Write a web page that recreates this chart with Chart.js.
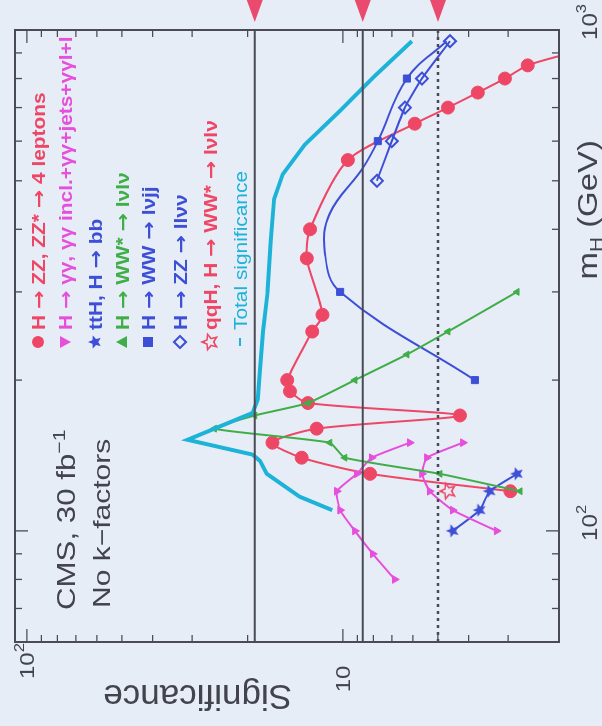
<!DOCTYPE html>
<html>
<head>
<meta charset="utf-8">
<script src="https://cdn.jsdelivr.net/npm/chart.js@4.4.1/dist/chart.umd.min.js"></script>
<style>
  html, body { margin: 0; padding: 0; background: #e7edf6; overflow: hidden; }
  #wrap { position: absolute; left: -62px; top: 62px; width: 726px; height: 602px; transform: rotate(-90deg); }
</style>
</head>
<body>
<div id="wrap"><canvas id="sig" width="726" height="602"></canvas></div>
<script>
// expected significance per channel vs. Higgs mass (GeV)
var zz4lMass = [120, 130, 140, 150, 160, 170, 180, 190, 200, 250, 270, 350, 400, 550, 650, 700, 750, 800, 850, 900];
var zz4lSig  = [2.95, 8.2, 13.5, 16.7, 12.1, 4.26, 12.9, 14.7, 15.0, 12.5, 11.6, 13.0, 12.7, 9.64, 5.92, 4.65, 3.74, 3.07, 2.60, 1.9];

var ggInclMass = [80, 90, 100, 110, 120, 130, 140, 150];
var ggInclSig  = [6.85, 8.04, 9.16, 10.2, 10.45, 9.03, 8.10, 6.14];

var ggCutMass = [100, 110, 120, 130, 140, 150];
var ggCutSig  = [3.26, 4.49, 5.31, 5.62, 5.42, 4.17];

var tthMass = [100, 110, 120, 130];
var tthSig  = [4.49, 3.69, 3.43, 2.81];

var wwllMass = [120, 130, 140, 150, 160, 170, 180, 200, 225, 250, 300];
var wwllSig  = [2.75, 4.93, 9.86, 11.0, 25.5, 19.0, 12.9, 9.16, 6.27, 4.65, 2.81];

var wwjjMass = [200, 300, 360, 430, 530, 600, 800, 950];
var wwjjSig  = [3.82, 10.2, 11.4, 11.0, 8.65, 7.75, 6.27, 4.7];
var wwjjMarked = [1, 1, 0, 0, 0, 1, 1, 0];

var zzllnnMass = [500, 600, 700, 800, 950];
var zzllnnSig  = [7.80, 7.0, 6.36, 5.62, 4.58];

var qqhMass = [120];
var qqhSig  = [4.65];

var totalMass = [110, 117, 130, 138, 142, 152, 172, 183, 210, 250, 300, 380, 460, 515, 590, 690, 810, 950];
var totalSig  = [10.8, 13.7, 17.4, 18.3, 19.3, 31.0, 19.3, 18.6, 18.3, 17.9, 17.3, 16.9, 16.5, 15.5, 13.2, 10.2, 7.92, 6.05];

// reference levels
var solidLevels = [19, 8.65];
var dottedLevel = 5;

// axis ticks
var massTicks = [60, 70, 80, 90, 100, 200, 300, 400, 500, 600, 700, 800, 900, 1000];
var sigTicks = [3, 4, 5, 6, 7, 8, 9, 10, 20, 30, 40, 50, 60, 70, 80, 90, 100];
var massLabels = [[100, "2"], [1000, "3"]];
var sigLabels = [[10, ""], [100, "2"]];

var legendText = [
  "H \u2192 ZZ, ZZ* \u2192 4 leptons",
  "H \u2192 \u03b3\u03b3, \u03b3\u03b3 incl.+\u03b3\u03b3+jets+\u03b3\u03b3l+l",
  "ttH, H \u2192 bb",
  "H \u2192 WW* \u2192 l\u03bdl\u03bd",
  "H \u2192 WW \u2192 l\u03bdjj",
  "H \u2192 ZZ \u2192 ll\u03bd\u03bd",
  "qqH, H \u2192 WW* \u2192 l\u03bdl\u03bd",
  "Total significance"
];

var RED = "#ee4766", MAG = "#e64fdc", GRN = "#3fae48", BLU = "#3d4fd6", CYA = "#1db3d8", INK = "#43434e";
var FONT = "'Liberation Sans', Arial, sans-serif";
var ARROW_FONT = "'DejaVu Sans', sans-serif";

function starCanvas(r, color, filled) {
  var c = document.createElement("canvas");
  var s = Math.ceil(2 * r + 4);
  c.width = s; c.height = s;
  var g = c.getContext("2d");
  g.beginPath();
  for (var i = 0; i < 10; i++) {
    var a = -Math.PI / 2 + i * Math.PI / 5;
    var rr = i % 2 ? r * 0.45 : r;
    g.lineTo(s / 2 + rr * Math.cos(a), s / 2 + rr * Math.sin(a));
  }
  g.closePath();
  if (filled) { g.fillStyle = color; g.fill(); }
  else { g.strokeStyle = color; g.lineWidth = 1.6; g.stroke(); }
  return c;
}
var starFull = starCanvas(7, BLU, true);
var starOpen = starCanvas(8, RED, false);

function pts(mass, sig) {
  return mass.map(function (m, i) { return { x: m, y: sig[i] }; });
}

function series(mass, sig, color, style, radius, more) {
  var d = {
    data: pts(mass, sig),
    borderColor: color,
    backgroundColor: color,
    pointBackgroundColor: color,
    pointBorderColor: color,
    pointStyle: style,
    pointRadius: radius,
    pointBorderWidth: 1,
    borderWidth: 2,
    tension: 0.15,
    showLine: true
  };
  for (var k in more) d[k] = more[k];
  return d;
}

function levelLine(level, dash, width) {
  return {
    data: [{ x: 60, y: level }, { x: 1000, y: level }],
    borderColor: "#4a4a56",
    borderWidth: width,
    borderDash: dash,
    pointRadius: 0,
    showLine: true
  };
}

var datasets = [
  levelLine(solidLevels[0], [], 1.8),
  levelLine(solidLevels[1], [], 1.8),
  levelLine(dottedLevel, [3, 4], 2.6),
  series(totalMass, totalSig, CYA, "circle", 0, { borderWidth: 4, tension: 0 }),
  series(wwllMass, wwllSig, GRN, "triangle", 4),
  series(ggInclMass, ggInclSig, MAG, "triangle", 4.5, { pointRotation: 180 }),
  series(ggCutMass, ggCutSig, MAG, "triangle", 4.5, { pointRotation: 180 }),
  series(tthMass, tthSig, BLU, starFull, 6),
  series(wwjjMass, wwjjSig, BLU, "rect", wwjjMarked.map(function (f) { return f ? 5 : 0; }), { tension: 0.4 }),
  series(zzllnnMass, zzllnnSig, BLU, "rectRot", 6, { pointBackgroundColor: "rgba(0,0,0,0)", pointBorderWidth: 2 }),
  series(zz4lMass, zz4lSig, RED, "circle", 6.5, { tension: 0.25 }),
  series(qqhMass, qqhSig, RED, starOpen, 7)
];

function partFont(p) {
  return (p.w || "") + " " + p.size + "px " + (p.f || FONT);
}

function drawRich(ctx, parts, u, v, opt) {
  ctx.save();
  ctx.translate(u, v);
  if (opt.rot) ctx.rotate(opt.rot);
  ctx.scale(opt.sx || 1, 1);
  var w = 0;
  parts.forEach(function (p) { ctx.font = partFont(p); w += ctx.measureText(p.t).width; });
  var x = opt.align === "right" ? -w : opt.align === "center" ? -w / 2 : 0;
  ctx.fillStyle = opt.color;
  ctx.textAlign = "left";
  ctx.textBaseline = "alphabetic";
  parts.forEach(function (p) {
    ctx.font = partFont(p);
    ctx.fillText(p.t, x, p.dy || 0);
    x += ctx.measureText(p.t).width;
  });
  ctx.restore();
}

function marker(ctx, kind, x, y) {
  ctx.save();
  ctx.lineWidth = 2;
  ctx.beginPath();
  if (kind === "circle") {
    ctx.fillStyle = RED; ctx.arc(x, y, 6, 0, 2 * Math.PI); ctx.fill();
  } else if (kind === "triDown") {
    ctx.fillStyle = MAG; ctx.moveTo(x - 6, y - 5); ctx.lineTo(x + 6, y - 5); ctx.lineTo(x, y + 6); ctx.closePath(); ctx.fill();
  } else if (kind === "triUp") {
    ctx.fillStyle = GRN; ctx.moveTo(x - 6, y + 5); ctx.lineTo(x + 6, y + 5); ctx.lineTo(x, y - 6); ctx.closePath(); ctx.fill();
  } else if (kind === "rect") {
    ctx.fillStyle = BLU; ctx.fillRect(x - 5, y - 5, 10, 10);
  } else if (kind === "diamond") {
    ctx.strokeStyle = BLU; ctx.moveTo(x, y - 6); ctx.lineTo(x + 6, y); ctx.lineTo(x, y + 6); ctx.lineTo(x - 6, y); ctx.closePath(); ctx.stroke();
  } else if (kind === "dash") {
    ctx.strokeStyle = CYA; ctx.moveTo(x - 4, y); ctx.lineTo(x + 4, y); ctx.stroke();
  } else {
    ctx.drawImage(kind, x - kind.width / 2, y - kind.height / 2);
  }
  ctx.restore();
}

// legend rows: arrows come from a font with a full-width arrow glyph
function legendParts(t) {
  var out = [];
  t.split("\u2192").forEach(function (piece, i) {
    if (i > 0) out.push({ t: "\u2192", size: 19, w: "bold", f: ARROW_FONT });
    out.push({ t: piece, size: 18, w: "bold" });
  });
  return out;
}

var decor = {
  id: "decor",
  afterDraw: function (chart) {
    var ctx = chart.ctx, a = chart.chartArea;
    var xs = chart.scales.x, ys = chart.scales.y;

    // frame
    ctx.save();
    ctx.strokeStyle = "#4b4b58";
    ctx.lineWidth = 2;
    ctx.strokeRect(a.left, a.top, a.right - a.left, a.bottom - a.top);

    // inward ticks on all four sides
    ctx.lineWidth = 1.3;
    ctx.beginPath();
    massTicks.forEach(function (m) {
      var u = xs.getPixelForValue(m);
      var len = (m === 100 || m === 1000) ? 13 : 7;
      ctx.moveTo(u, a.bottom); ctx.lineTo(u, a.bottom - len);
      ctx.moveTo(u, a.top); ctx.lineTo(u, a.top + len);
    });
    sigTicks.forEach(function (s) {
      var v = ys.getPixelForValue(s);
      var len = (s === 10 || s === 100) ? 13 : 7;
      ctx.moveTo(a.left, v); ctx.lineTo(a.left + len, v);
      ctx.moveTo(a.right, v); ctx.lineTo(a.right - len, v);
    });
    ctx.stroke();

    // arrows above the reference levels
    ctx.fillStyle = "#ea4a6e";
    solidLevels.concat([dottedLevel]).forEach(function (s) {
      var v = ys.getPixelForValue(s);
      ctx.beginPath();
      ctx.moveTo(726, v - 8); ctx.lineTo(726, v + 8); ctx.lineTo(704, v); ctx.closePath();
      ctx.fill();
    });
    ctx.restore();

    // tick labels
    massLabels.forEach(function (l) {
      var u = xs.getPixelForValue(l[0]);
      drawRich(ctx, [{ t: "10", size: 22 }, { t: l[1], size: 15, dy: -11 }], u + 8, 597, { sx: 1.1, align: "center", color: INK });
    });
    sigLabels.forEach(function (l) {
      var v = ys.getPixelForValue(l[0]);
      drawRich(ctx, [{ t: "10", size: 20 }, { t: l[1], size: 14, dy: -10 }], 47, v + 7, { sx: 1.2, align: l[1] ? "left" : "center", color: INK });
    });

    // axis titles
    drawRich(ctx, [{ t: "Significance", size: 35 }], 41, 292, { rot: -Math.PI / 2, color: INK });
    drawRich(ctx, [{ t: "m", size: 27 }, { t: "H", size: 17, dy: 5 }, { t: " (GeV)", size: 27 }], 586, 597, { sx: 1.22, align: "right", color: INK });

    // header text
    drawRich(ctx, [{ t: "CMS, 30 fb", size: 25 }, { t: "\u22121", size: 17, dy: -10 }], 116, 75, { sx: 1.25, color: INK });
    drawRich(ctx, [{ t: "No k\u2212factors", size: 24 }], 118, 110, { sx: 1.25, color: INK });

    // legend
    var rows = [38, 65, 95, 122, 148, 180, 210, 240];
    var cols = [RED, MAG, BLU, GRN, BLU, BLU, RED, CYA];
    var kinds = ["circle", "triDown", starFull, "triUp", "rect", "diamond", starOpen, "dash"];
    legendText.forEach(function (t, i) {
      marker(ctx, kinds[i], 384, rows[i]);
      var parts = i === 7 ? [{ t: t, size: 18 }] : legendParts(t);
      drawRich(ctx, parts, 396, rows[i] + 7, { sx: 1.16, color: cols[i] });
    });
  }
};

new Chart("sig", {
  type: "scatter",
  data: { datasets: datasets },
  options: {
    responsive: false,
    animation: false,
    events: [],
    layout: { padding: { left: 84, right: 30, top: 15, bottom: 43 } },
    plugins: { legend: { display: false }, tooltip: { enabled: false } },
    scales: {
      x: { type: "logarithmic", min: 60, max: 1000, display: false },
      y: { type: "logarithmic", min: 2.07, max: 109, display: false }
    }
  },
  plugins: [decor]
});
</script>
</body>
</html>
